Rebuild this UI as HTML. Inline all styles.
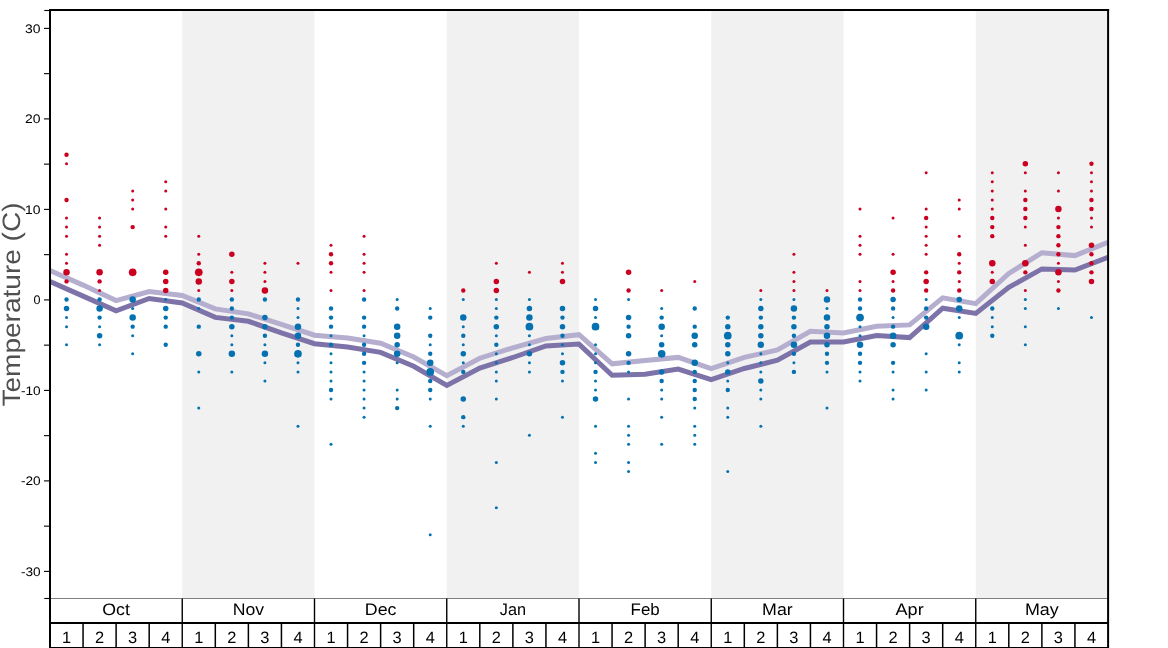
<!DOCTYPE html><html><head><meta charset="utf-8"><style>html,body{margin:0;padding:0;background:#fff;}svg text{text-rendering:geometricPrecision}</style></head><body><svg width="1168" height="648" viewBox="0 0 1168 648" style="display:block;will-change:transform;font-family:'Liberation Sans',sans-serif">
<rect width="1168" height="648" fill="#fff"/>
<defs><clipPath id="ax"><rect x="50" y="10" width="1058" height="588.5"/></clipPath></defs>
<rect x="182.25" y="10" width="132.25" height="588.5" fill="#f1f1f1"/>
<rect x="446.75" y="10" width="132.25" height="588.5" fill="#f1f1f1"/>
<rect x="711.25" y="10" width="132.25" height="588.5" fill="#f1f1f1"/>
<rect x="975.75" y="10" width="132.25" height="588.5" fill="#f1f1f1"/>
<g clip-path="url(#ax)" fill="none" stroke-linejoin="miter" stroke-linecap="butt">
<polyline points="50.0,270.6 83.1,285.1 116.1,300.6 149.2,291.5 182.2,295.5 215.3,308.9 248.4,313.9 281.4,324.3 314.5,335.2 347.6,338.1 380.6,343.2 413.7,357.0 446.8,375.6 479.8,358.2 512.9,347.8 545.9,338.5 579.0,334.7 612.1,363.8 645.1,360.4 678.2,357.4 711.2,368.7 744.3,357.4 777.4,350.0 810.4,331.3 843.5,333.0 876.6,326.2 909.6,324.9 942.7,297.8 975.8,303.6 1008.8,273.5 1041.9,252.7 1074.9,255.6 1108.0,242.4" stroke="#b5aecf" stroke-width="5.0"/>
<polyline points="50.0,281.5 83.1,296.1 116.1,310.8 149.2,298.5 182.2,302.9 215.3,317.4 248.4,321.3 281.4,332.9 314.5,343.7 347.6,347.1 380.6,352.4 413.7,366.3 446.8,385.5 479.8,368.1 512.9,357.5 545.9,345.9 579.0,344.1 612.1,375.2 645.1,374.3 678.2,369.0 711.2,379.7 744.3,368.5 777.4,360.2 810.4,342.0 843.5,342.0 876.6,335.5 909.6,337.6 942.7,308.2 975.8,313.4 1008.8,287.4 1041.9,268.9 1074.9,270.1 1108.0,257.4" stroke="#7e73a8" stroke-width="5.0"/>
</g>
<g fill="#ca0020"><circle cx="66.53" cy="154.70" r="2.20"/><circle cx="66.53" cy="163.75" r="1.50"/><circle cx="66.53" cy="199.95" r="2.20"/><circle cx="66.53" cy="218.05" r="1.50"/><circle cx="66.53" cy="227.10" r="1.50"/><circle cx="66.53" cy="236.15" r="1.50"/><circle cx="66.53" cy="254.25" r="1.50"/><circle cx="66.53" cy="263.30" r="1.50"/><circle cx="66.53" cy="272.35" r="3.25"/><circle cx="66.53" cy="281.40" r="2.20"/><circle cx="99.59" cy="218.05" r="1.50"/><circle cx="99.59" cy="227.10" r="1.50"/><circle cx="99.59" cy="236.15" r="1.50"/><circle cx="99.59" cy="245.20" r="1.50"/><circle cx="99.59" cy="272.35" r="3.25"/><circle cx="99.59" cy="281.40" r="2.20"/><circle cx="99.59" cy="290.45" r="1.50"/><circle cx="132.66" cy="190.90" r="1.50"/><circle cx="132.66" cy="199.95" r="1.50"/><circle cx="132.66" cy="209.00" r="1.50"/><circle cx="132.66" cy="227.10" r="2.20"/><circle cx="132.66" cy="272.35" r="3.85"/><circle cx="165.72" cy="181.85" r="1.50"/><circle cx="165.72" cy="190.90" r="1.50"/><circle cx="165.72" cy="209.00" r="1.50"/><circle cx="165.72" cy="227.10" r="1.50"/><circle cx="165.72" cy="236.15" r="1.50"/><circle cx="165.72" cy="272.35" r="2.75"/><circle cx="165.72" cy="281.40" r="2.75"/><circle cx="165.72" cy="290.45" r="2.75"/><circle cx="198.78" cy="236.15" r="1.50"/><circle cx="198.78" cy="254.25" r="1.50"/><circle cx="198.78" cy="263.30" r="2.20"/><circle cx="198.78" cy="272.35" r="3.85"/><circle cx="198.78" cy="281.40" r="3.25"/><circle cx="198.78" cy="290.45" r="1.50"/><circle cx="231.84" cy="254.25" r="2.75"/><circle cx="231.84" cy="272.35" r="1.50"/><circle cx="231.84" cy="281.40" r="2.75"/><circle cx="231.84" cy="290.45" r="1.50"/><circle cx="264.91" cy="263.30" r="1.50"/><circle cx="264.91" cy="272.35" r="1.50"/><circle cx="264.91" cy="281.40" r="1.50"/><circle cx="264.91" cy="290.45" r="3.25"/><circle cx="297.97" cy="263.30" r="1.50"/><circle cx="331.03" cy="245.20" r="1.50"/><circle cx="331.03" cy="254.25" r="2.20"/><circle cx="331.03" cy="263.30" r="2.20"/><circle cx="331.03" cy="272.35" r="1.50"/><circle cx="331.03" cy="290.45" r="1.50"/><circle cx="364.09" cy="236.15" r="1.50"/><circle cx="364.09" cy="254.25" r="1.50"/><circle cx="364.09" cy="263.30" r="1.50"/><circle cx="364.09" cy="272.35" r="1.50"/><circle cx="364.09" cy="290.45" r="1.50"/><circle cx="463.28" cy="290.45" r="2.20"/><circle cx="496.34" cy="263.30" r="1.50"/><circle cx="496.34" cy="281.40" r="2.75"/><circle cx="496.34" cy="290.45" r="2.75"/><circle cx="529.41" cy="272.35" r="1.50"/><circle cx="562.47" cy="263.30" r="1.50"/><circle cx="562.47" cy="272.35" r="1.50"/><circle cx="562.47" cy="281.40" r="2.75"/><circle cx="628.59" cy="272.35" r="2.75"/><circle cx="628.59" cy="290.45" r="2.20"/><circle cx="661.66" cy="290.45" r="1.50"/><circle cx="694.72" cy="281.40" r="1.50"/><circle cx="760.84" cy="290.45" r="1.50"/><circle cx="793.91" cy="254.25" r="1.50"/><circle cx="793.91" cy="272.35" r="1.50"/><circle cx="793.91" cy="281.40" r="1.50"/><circle cx="793.91" cy="290.45" r="1.50"/><circle cx="826.97" cy="290.45" r="1.50"/><circle cx="860.03" cy="209.00" r="1.50"/><circle cx="860.03" cy="236.15" r="1.50"/><circle cx="860.03" cy="245.20" r="1.50"/><circle cx="860.03" cy="254.25" r="1.50"/><circle cx="860.03" cy="281.40" r="1.50"/><circle cx="860.03" cy="290.45" r="1.50"/><circle cx="893.09" cy="218.05" r="1.50"/><circle cx="893.09" cy="254.25" r="1.50"/><circle cx="893.09" cy="272.35" r="2.75"/><circle cx="893.09" cy="281.40" r="1.50"/><circle cx="893.09" cy="290.45" r="2.20"/><circle cx="926.16" cy="172.80" r="1.50"/><circle cx="926.16" cy="209.00" r="1.50"/><circle cx="926.16" cy="218.05" r="2.20"/><circle cx="926.16" cy="227.10" r="1.50"/><circle cx="926.16" cy="236.15" r="1.50"/><circle cx="926.16" cy="245.20" r="1.50"/><circle cx="926.16" cy="254.25" r="1.50"/><circle cx="926.16" cy="272.35" r="2.20"/><circle cx="926.16" cy="281.40" r="2.75"/><circle cx="926.16" cy="290.45" r="2.20"/><circle cx="959.22" cy="199.95" r="1.50"/><circle cx="959.22" cy="209.00" r="1.50"/><circle cx="959.22" cy="236.15" r="1.50"/><circle cx="959.22" cy="254.25" r="2.20"/><circle cx="959.22" cy="263.30" r="1.50"/><circle cx="959.22" cy="272.35" r="2.20"/><circle cx="959.22" cy="281.40" r="1.50"/><circle cx="959.22" cy="290.45" r="2.20"/><circle cx="992.28" cy="172.80" r="1.50"/><circle cx="992.28" cy="181.85" r="1.50"/><circle cx="992.28" cy="190.90" r="1.50"/><circle cx="992.28" cy="199.95" r="1.50"/><circle cx="992.28" cy="209.00" r="1.50"/><circle cx="992.28" cy="218.05" r="2.20"/><circle cx="992.28" cy="227.10" r="2.20"/><circle cx="992.28" cy="236.15" r="2.20"/><circle cx="992.28" cy="263.30" r="3.25"/><circle cx="992.28" cy="272.35" r="1.50"/><circle cx="992.28" cy="281.40" r="2.75"/><circle cx="1025.34" cy="163.75" r="2.75"/><circle cx="1025.34" cy="172.80" r="1.50"/><circle cx="1025.34" cy="190.90" r="1.50"/><circle cx="1025.34" cy="199.95" r="2.20"/><circle cx="1025.34" cy="209.00" r="2.20"/><circle cx="1025.34" cy="218.05" r="2.20"/><circle cx="1025.34" cy="227.10" r="1.50"/><circle cx="1025.34" cy="245.20" r="1.50"/><circle cx="1025.34" cy="263.30" r="3.25"/><circle cx="1025.34" cy="272.35" r="2.20"/><circle cx="1025.34" cy="290.45" r="1.50"/><circle cx="1058.41" cy="172.80" r="1.50"/><circle cx="1058.41" cy="190.90" r="1.50"/><circle cx="1058.41" cy="209.00" r="3.25"/><circle cx="1058.41" cy="218.05" r="1.50"/><circle cx="1058.41" cy="227.10" r="2.20"/><circle cx="1058.41" cy="236.15" r="2.20"/><circle cx="1058.41" cy="245.20" r="2.20"/><circle cx="1058.41" cy="254.25" r="2.20"/><circle cx="1058.41" cy="263.30" r="1.50"/><circle cx="1058.41" cy="272.35" r="3.25"/><circle cx="1058.41" cy="281.40" r="1.50"/><circle cx="1058.41" cy="290.45" r="2.20"/><circle cx="1091.47" cy="163.75" r="2.20"/><circle cx="1091.47" cy="172.80" r="1.50"/><circle cx="1091.47" cy="181.85" r="1.50"/><circle cx="1091.47" cy="190.90" r="1.50"/><circle cx="1091.47" cy="199.95" r="2.20"/><circle cx="1091.47" cy="209.00" r="2.20"/><circle cx="1091.47" cy="218.05" r="1.50"/><circle cx="1091.47" cy="227.10" r="1.50"/><circle cx="1091.47" cy="245.20" r="2.75"/><circle cx="1091.47" cy="254.25" r="2.20"/><circle cx="1091.47" cy="263.30" r="2.20"/><circle cx="1091.47" cy="272.35" r="2.20"/><circle cx="1091.47" cy="281.40" r="2.75"/></g>
<g fill="#0571b0"><circle cx="66.53" cy="299.50" r="2.20"/><circle cx="66.53" cy="308.55" r="2.75"/><circle cx="66.53" cy="317.60" r="1.50"/><circle cx="66.53" cy="326.65" r="1.50"/><circle cx="66.53" cy="344.75" r="1.50"/><circle cx="99.59" cy="299.50" r="2.20"/><circle cx="99.59" cy="308.55" r="3.25"/><circle cx="99.59" cy="317.60" r="2.20"/><circle cx="99.59" cy="326.65" r="1.50"/><circle cx="99.59" cy="335.70" r="2.75"/><circle cx="99.59" cy="344.75" r="1.50"/><circle cx="132.66" cy="299.50" r="3.25"/><circle cx="132.66" cy="308.55" r="1.50"/><circle cx="132.66" cy="317.60" r="3.25"/><circle cx="132.66" cy="326.65" r="2.20"/><circle cx="132.66" cy="335.70" r="1.50"/><circle cx="132.66" cy="353.80" r="1.50"/><circle cx="165.72" cy="299.50" r="1.50"/><circle cx="165.72" cy="308.55" r="2.75"/><circle cx="165.72" cy="317.60" r="2.20"/><circle cx="165.72" cy="326.65" r="2.20"/><circle cx="165.72" cy="344.75" r="2.20"/><circle cx="198.78" cy="299.50" r="2.20"/><circle cx="198.78" cy="308.55" r="1.50"/><circle cx="198.78" cy="326.65" r="2.20"/><circle cx="198.78" cy="353.80" r="2.75"/><circle cx="198.78" cy="371.90" r="1.50"/><circle cx="198.78" cy="408.10" r="1.50"/><circle cx="231.84" cy="299.50" r="2.20"/><circle cx="231.84" cy="308.55" r="2.20"/><circle cx="231.84" cy="317.60" r="2.20"/><circle cx="231.84" cy="326.65" r="2.75"/><circle cx="231.84" cy="335.70" r="1.50"/><circle cx="231.84" cy="344.75" r="1.50"/><circle cx="231.84" cy="353.80" r="3.25"/><circle cx="231.84" cy="371.90" r="1.50"/><circle cx="264.91" cy="299.50" r="2.20"/><circle cx="264.91" cy="317.60" r="2.75"/><circle cx="264.91" cy="326.65" r="2.75"/><circle cx="264.91" cy="335.70" r="2.20"/><circle cx="264.91" cy="344.75" r="1.50"/><circle cx="264.91" cy="353.80" r="3.25"/><circle cx="264.91" cy="362.85" r="1.50"/><circle cx="264.91" cy="380.95" r="1.50"/><circle cx="297.97" cy="299.50" r="2.20"/><circle cx="297.97" cy="308.55" r="1.50"/><circle cx="297.97" cy="317.60" r="1.50"/><circle cx="297.97" cy="326.65" r="3.25"/><circle cx="297.97" cy="335.70" r="3.25"/><circle cx="297.97" cy="344.75" r="2.20"/><circle cx="297.97" cy="353.80" r="3.85"/><circle cx="297.97" cy="362.85" r="1.50"/><circle cx="297.97" cy="371.90" r="1.50"/><circle cx="297.97" cy="426.20" r="1.50"/><circle cx="331.03" cy="308.55" r="2.20"/><circle cx="331.03" cy="317.60" r="2.20"/><circle cx="331.03" cy="326.65" r="2.20"/><circle cx="331.03" cy="335.70" r="1.50"/><circle cx="331.03" cy="344.75" r="2.20"/><circle cx="331.03" cy="353.80" r="1.50"/><circle cx="331.03" cy="362.85" r="1.50"/><circle cx="331.03" cy="371.90" r="1.50"/><circle cx="331.03" cy="380.95" r="1.50"/><circle cx="331.03" cy="390.00" r="2.20"/><circle cx="331.03" cy="399.05" r="1.50"/><circle cx="331.03" cy="444.30" r="1.50"/><circle cx="364.09" cy="299.50" r="2.20"/><circle cx="364.09" cy="317.60" r="2.20"/><circle cx="364.09" cy="326.65" r="2.20"/><circle cx="364.09" cy="335.70" r="1.50"/><circle cx="364.09" cy="344.75" r="2.20"/><circle cx="364.09" cy="353.80" r="2.20"/><circle cx="364.09" cy="362.85" r="2.20"/><circle cx="364.09" cy="371.90" r="1.50"/><circle cx="364.09" cy="380.95" r="1.50"/><circle cx="364.09" cy="390.00" r="1.50"/><circle cx="364.09" cy="399.05" r="1.50"/><circle cx="364.09" cy="408.10" r="1.50"/><circle cx="364.09" cy="417.15" r="1.50"/><circle cx="397.16" cy="299.50" r="1.50"/><circle cx="397.16" cy="308.55" r="2.20"/><circle cx="397.16" cy="326.65" r="3.25"/><circle cx="397.16" cy="335.70" r="3.25"/><circle cx="397.16" cy="344.75" r="2.75"/><circle cx="397.16" cy="353.80" r="3.25"/><circle cx="397.16" cy="362.85" r="1.50"/><circle cx="397.16" cy="390.00" r="1.50"/><circle cx="397.16" cy="399.05" r="1.50"/><circle cx="397.16" cy="408.10" r="2.20"/><circle cx="430.22" cy="308.55" r="1.50"/><circle cx="430.22" cy="317.60" r="2.20"/><circle cx="430.22" cy="335.70" r="2.20"/><circle cx="430.22" cy="344.75" r="1.50"/><circle cx="430.22" cy="353.80" r="2.20"/><circle cx="430.22" cy="362.85" r="3.25"/><circle cx="430.22" cy="371.90" r="3.85"/><circle cx="430.22" cy="380.95" r="2.20"/><circle cx="430.22" cy="390.00" r="2.20"/><circle cx="430.22" cy="399.05" r="1.50"/><circle cx="430.22" cy="426.20" r="1.50"/><circle cx="430.22" cy="534.80" r="1.50"/><circle cx="463.28" cy="299.50" r="1.50"/><circle cx="463.28" cy="317.60" r="3.25"/><circle cx="463.28" cy="326.65" r="1.50"/><circle cx="463.28" cy="335.70" r="2.20"/><circle cx="463.28" cy="344.75" r="1.50"/><circle cx="463.28" cy="353.80" r="2.75"/><circle cx="463.28" cy="362.85" r="1.50"/><circle cx="463.28" cy="371.90" r="2.20"/><circle cx="463.28" cy="399.05" r="2.75"/><circle cx="463.28" cy="417.15" r="2.20"/><circle cx="463.28" cy="426.20" r="1.50"/><circle cx="496.34" cy="299.50" r="1.50"/><circle cx="496.34" cy="308.55" r="1.50"/><circle cx="496.34" cy="317.60" r="2.20"/><circle cx="496.34" cy="326.65" r="2.75"/><circle cx="496.34" cy="335.70" r="1.50"/><circle cx="496.34" cy="344.75" r="2.20"/><circle cx="496.34" cy="353.80" r="1.50"/><circle cx="496.34" cy="362.85" r="1.50"/><circle cx="496.34" cy="371.90" r="1.50"/><circle cx="496.34" cy="380.95" r="1.50"/><circle cx="496.34" cy="399.05" r="1.50"/><circle cx="496.34" cy="462.40" r="1.50"/><circle cx="496.34" cy="507.65" r="1.50"/><circle cx="529.41" cy="299.50" r="1.50"/><circle cx="529.41" cy="308.55" r="2.75"/><circle cx="529.41" cy="317.60" r="3.25"/><circle cx="529.41" cy="326.65" r="3.85"/><circle cx="529.41" cy="335.70" r="1.50"/><circle cx="529.41" cy="344.75" r="1.50"/><circle cx="529.41" cy="353.80" r="2.75"/><circle cx="529.41" cy="362.85" r="1.50"/><circle cx="529.41" cy="371.90" r="1.50"/><circle cx="529.41" cy="435.25" r="1.50"/><circle cx="562.47" cy="308.55" r="2.75"/><circle cx="562.47" cy="317.60" r="2.20"/><circle cx="562.47" cy="326.65" r="2.75"/><circle cx="562.47" cy="335.70" r="2.20"/><circle cx="562.47" cy="344.75" r="1.50"/><circle cx="562.47" cy="353.80" r="1.50"/><circle cx="562.47" cy="362.85" r="2.75"/><circle cx="562.47" cy="371.90" r="2.20"/><circle cx="562.47" cy="380.95" r="1.50"/><circle cx="562.47" cy="417.15" r="1.50"/><circle cx="595.53" cy="299.50" r="1.50"/><circle cx="595.53" cy="308.55" r="2.75"/><circle cx="595.53" cy="317.60" r="1.50"/><circle cx="595.53" cy="326.65" r="3.85"/><circle cx="595.53" cy="344.75" r="1.50"/><circle cx="595.53" cy="353.80" r="1.50"/><circle cx="595.53" cy="362.85" r="1.50"/><circle cx="595.53" cy="371.90" r="2.20"/><circle cx="595.53" cy="380.95" r="1.50"/><circle cx="595.53" cy="390.00" r="1.50"/><circle cx="595.53" cy="399.05" r="2.75"/><circle cx="595.53" cy="426.20" r="1.50"/><circle cx="595.53" cy="453.35" r="1.50"/><circle cx="595.53" cy="462.40" r="1.50"/><circle cx="628.59" cy="299.50" r="1.50"/><circle cx="628.59" cy="317.60" r="2.75"/><circle cx="628.59" cy="326.65" r="2.20"/><circle cx="628.59" cy="335.70" r="2.75"/><circle cx="628.59" cy="353.80" r="2.75"/><circle cx="628.59" cy="362.85" r="2.20"/><circle cx="628.59" cy="371.90" r="1.50"/><circle cx="628.59" cy="399.05" r="1.50"/><circle cx="628.59" cy="426.20" r="1.50"/><circle cx="628.59" cy="435.25" r="1.50"/><circle cx="628.59" cy="444.30" r="1.50"/><circle cx="628.59" cy="462.40" r="1.50"/><circle cx="628.59" cy="471.45" r="1.50"/><circle cx="661.66" cy="308.55" r="1.50"/><circle cx="661.66" cy="317.60" r="2.20"/><circle cx="661.66" cy="326.65" r="3.25"/><circle cx="661.66" cy="335.70" r="1.50"/><circle cx="661.66" cy="344.75" r="2.75"/><circle cx="661.66" cy="353.80" r="3.85"/><circle cx="661.66" cy="371.90" r="2.75"/><circle cx="661.66" cy="380.95" r="2.20"/><circle cx="661.66" cy="390.00" r="1.50"/><circle cx="661.66" cy="399.05" r="1.50"/><circle cx="661.66" cy="417.15" r="1.50"/><circle cx="661.66" cy="444.30" r="1.50"/><circle cx="694.72" cy="308.55" r="2.20"/><circle cx="694.72" cy="326.65" r="2.20"/><circle cx="694.72" cy="335.70" r="3.25"/><circle cx="694.72" cy="344.75" r="2.75"/><circle cx="694.72" cy="362.85" r="3.25"/><circle cx="694.72" cy="371.90" r="2.20"/><circle cx="694.72" cy="380.95" r="2.20"/><circle cx="694.72" cy="390.00" r="2.20"/><circle cx="694.72" cy="399.05" r="2.20"/><circle cx="694.72" cy="408.10" r="1.50"/><circle cx="694.72" cy="426.20" r="1.50"/><circle cx="694.72" cy="435.25" r="1.50"/><circle cx="694.72" cy="444.30" r="1.50"/><circle cx="727.78" cy="317.60" r="2.20"/><circle cx="727.78" cy="326.65" r="2.75"/><circle cx="727.78" cy="335.70" r="3.85"/><circle cx="727.78" cy="344.75" r="2.75"/><circle cx="727.78" cy="353.80" r="2.75"/><circle cx="727.78" cy="362.85" r="1.50"/><circle cx="727.78" cy="371.90" r="2.75"/><circle cx="727.78" cy="380.95" r="1.50"/><circle cx="727.78" cy="390.00" r="2.20"/><circle cx="727.78" cy="408.10" r="1.50"/><circle cx="727.78" cy="417.15" r="1.50"/><circle cx="727.78" cy="471.45" r="1.50"/><circle cx="760.84" cy="299.50" r="1.50"/><circle cx="760.84" cy="308.55" r="2.75"/><circle cx="760.84" cy="317.60" r="2.20"/><circle cx="760.84" cy="326.65" r="2.75"/><circle cx="760.84" cy="335.70" r="2.75"/><circle cx="760.84" cy="344.75" r="3.25"/><circle cx="760.84" cy="353.80" r="1.50"/><circle cx="760.84" cy="362.85" r="1.50"/><circle cx="760.84" cy="371.90" r="1.50"/><circle cx="760.84" cy="380.95" r="2.75"/><circle cx="760.84" cy="390.00" r="1.50"/><circle cx="760.84" cy="399.05" r="1.50"/><circle cx="760.84" cy="426.20" r="1.50"/><circle cx="793.91" cy="299.50" r="1.50"/><circle cx="793.91" cy="308.55" r="3.25"/><circle cx="793.91" cy="317.60" r="2.20"/><circle cx="793.91" cy="326.65" r="2.75"/><circle cx="793.91" cy="335.70" r="2.20"/><circle cx="793.91" cy="344.75" r="3.25"/><circle cx="793.91" cy="353.80" r="2.20"/><circle cx="793.91" cy="362.85" r="1.50"/><circle cx="793.91" cy="371.90" r="2.20"/><circle cx="826.97" cy="299.50" r="3.25"/><circle cx="826.97" cy="308.55" r="1.50"/><circle cx="826.97" cy="317.60" r="3.25"/><circle cx="826.97" cy="326.65" r="2.75"/><circle cx="826.97" cy="335.70" r="3.25"/><circle cx="826.97" cy="344.75" r="2.75"/><circle cx="826.97" cy="353.80" r="2.20"/><circle cx="826.97" cy="362.85" r="2.20"/><circle cx="826.97" cy="371.90" r="1.50"/><circle cx="826.97" cy="408.10" r="1.50"/><circle cx="860.03" cy="299.50" r="2.20"/><circle cx="860.03" cy="308.55" r="2.20"/><circle cx="860.03" cy="317.60" r="3.85"/><circle cx="860.03" cy="326.65" r="1.50"/><circle cx="860.03" cy="335.70" r="1.50"/><circle cx="860.03" cy="344.75" r="3.25"/><circle cx="860.03" cy="353.80" r="2.20"/><circle cx="860.03" cy="362.85" r="2.20"/><circle cx="860.03" cy="371.90" r="1.50"/><circle cx="860.03" cy="380.95" r="1.50"/><circle cx="893.09" cy="299.50" r="2.75"/><circle cx="893.09" cy="308.55" r="2.20"/><circle cx="893.09" cy="317.60" r="1.50"/><circle cx="893.09" cy="326.65" r="2.20"/><circle cx="893.09" cy="335.70" r="3.25"/><circle cx="893.09" cy="344.75" r="2.75"/><circle cx="893.09" cy="362.85" r="2.20"/><circle cx="893.09" cy="371.90" r="1.50"/><circle cx="893.09" cy="390.00" r="1.50"/><circle cx="893.09" cy="399.05" r="1.50"/><circle cx="926.16" cy="299.50" r="1.50"/><circle cx="926.16" cy="308.55" r="2.20"/><circle cx="926.16" cy="317.60" r="2.20"/><circle cx="926.16" cy="326.65" r="3.25"/><circle cx="926.16" cy="353.80" r="1.50"/><circle cx="926.16" cy="371.90" r="1.50"/><circle cx="926.16" cy="390.00" r="1.50"/><circle cx="959.22" cy="299.50" r="2.75"/><circle cx="959.22" cy="308.55" r="3.25"/><circle cx="959.22" cy="317.60" r="1.50"/><circle cx="959.22" cy="335.70" r="3.85"/><circle cx="959.22" cy="344.75" r="1.50"/><circle cx="959.22" cy="362.85" r="1.50"/><circle cx="959.22" cy="371.90" r="1.50"/><circle cx="992.28" cy="308.55" r="2.20"/><circle cx="992.28" cy="317.60" r="1.50"/><circle cx="992.28" cy="326.65" r="1.50"/><circle cx="992.28" cy="335.70" r="2.20"/><circle cx="1025.34" cy="299.50" r="1.50"/><circle cx="1025.34" cy="308.55" r="1.50"/><circle cx="1025.34" cy="326.65" r="1.50"/><circle cx="1025.34" cy="344.75" r="1.50"/><circle cx="1058.41" cy="308.55" r="1.50"/><circle cx="1091.47" cy="317.60" r="1.50"/></g>
<line x1="50" y1="598.5" x2="1108" y2="598.5" stroke="#808080" stroke-width="1"/>
<g stroke="#000">
<line x1="50" y1="623" x2="1108" y2="623" stroke-width="2"/>
<line x1="49" y1="647.9" x2="1109" y2="647.9" stroke-width="2"/>
<line x1="83.06" y1="623" x2="83.06" y2="648" stroke-width="1.5"/>
<line x1="116.12" y1="623" x2="116.12" y2="648" stroke-width="1.5"/>
<line x1="149.19" y1="623" x2="149.19" y2="648" stroke-width="1.5"/>
<line x1="182.25" y1="598.5" x2="182.25" y2="648" stroke-width="1.4"/>
<line x1="215.31" y1="623" x2="215.31" y2="648" stroke-width="1.5"/>
<line x1="248.38" y1="623" x2="248.38" y2="648" stroke-width="1.5"/>
<line x1="281.44" y1="623" x2="281.44" y2="648" stroke-width="1.5"/>
<line x1="314.50" y1="598.5" x2="314.50" y2="648" stroke-width="1.4"/>
<line x1="347.56" y1="623" x2="347.56" y2="648" stroke-width="1.5"/>
<line x1="380.62" y1="623" x2="380.62" y2="648" stroke-width="1.5"/>
<line x1="413.69" y1="623" x2="413.69" y2="648" stroke-width="1.5"/>
<line x1="446.75" y1="598.5" x2="446.75" y2="648" stroke-width="1.4"/>
<line x1="479.81" y1="623" x2="479.81" y2="648" stroke-width="1.5"/>
<line x1="512.88" y1="623" x2="512.88" y2="648" stroke-width="1.5"/>
<line x1="545.94" y1="623" x2="545.94" y2="648" stroke-width="1.5"/>
<line x1="579.00" y1="598.5" x2="579.00" y2="648" stroke-width="1.4"/>
<line x1="612.06" y1="623" x2="612.06" y2="648" stroke-width="1.5"/>
<line x1="645.12" y1="623" x2="645.12" y2="648" stroke-width="1.5"/>
<line x1="678.19" y1="623" x2="678.19" y2="648" stroke-width="1.5"/>
<line x1="711.25" y1="598.5" x2="711.25" y2="648" stroke-width="1.4"/>
<line x1="744.31" y1="623" x2="744.31" y2="648" stroke-width="1.5"/>
<line x1="777.38" y1="623" x2="777.38" y2="648" stroke-width="1.5"/>
<line x1="810.44" y1="623" x2="810.44" y2="648" stroke-width="1.5"/>
<line x1="843.50" y1="598.5" x2="843.50" y2="648" stroke-width="1.4"/>
<line x1="876.56" y1="623" x2="876.56" y2="648" stroke-width="1.5"/>
<line x1="909.62" y1="623" x2="909.62" y2="648" stroke-width="1.5"/>
<line x1="942.69" y1="623" x2="942.69" y2="648" stroke-width="1.5"/>
<line x1="975.75" y1="598.5" x2="975.75" y2="648" stroke-width="1.4"/>
<line x1="1008.81" y1="623" x2="1008.81" y2="648" stroke-width="1.5"/>
<line x1="1041.88" y1="623" x2="1041.88" y2="648" stroke-width="1.5"/>
<line x1="1074.94" y1="623" x2="1074.94" y2="648" stroke-width="1.5"/>
<line x1="50" y1="9" x2="50" y2="648" stroke-width="2"/>
<line x1="1108.1" y1="9" x2="1108.1" y2="648" stroke-width="2"/>
<line x1="49" y1="10" x2="1109.1" y2="10" stroke-width="2"/>
<line x1="44.0" y1="571.40" x2="49.5" y2="571.40" stroke-width="1.1"/>
<line x1="44.0" y1="526.15" x2="49.5" y2="526.15" stroke-width="1.1"/>
<line x1="44.0" y1="480.90" x2="49.5" y2="480.90" stroke-width="1.1"/>
<line x1="44.0" y1="435.65" x2="49.5" y2="435.65" stroke-width="1.1"/>
<line x1="44.0" y1="390.40" x2="49.5" y2="390.40" stroke-width="1.1"/>
<line x1="44.0" y1="345.15" x2="49.5" y2="345.15" stroke-width="1.1"/>
<line x1="44.0" y1="299.90" x2="49.5" y2="299.90" stroke-width="1.1"/>
<line x1="44.0" y1="254.65" x2="49.5" y2="254.65" stroke-width="1.1"/>
<line x1="44.0" y1="209.40" x2="49.5" y2="209.40" stroke-width="1.1"/>
<line x1="44.0" y1="164.15" x2="49.5" y2="164.15" stroke-width="1.1"/>
<line x1="44.0" y1="118.90" x2="49.5" y2="118.90" stroke-width="1.1"/>
<line x1="44.0" y1="73.65" x2="49.5" y2="73.65" stroke-width="1.1"/>
<line x1="44.0" y1="28.40" x2="49.5" y2="28.40" stroke-width="1.1"/>
<line x1="44.3" y1="10.5" x2="49.5" y2="10.5" stroke-width="1.1"/>
<line x1="44.3" y1="598.5" x2="49.5" y2="598.5" stroke-width="1.1"/>
</g>
<g font-size="12.4" fill="#000" text-anchor="end">
<text x="40.6" y="575.55" textLength="19.7" lengthAdjust="spacingAndGlyphs">-30</text>
<text x="40.6" y="485.05" textLength="19.7" lengthAdjust="spacingAndGlyphs">-20</text>
<text x="40.6" y="394.55" textLength="19.7" lengthAdjust="spacingAndGlyphs">-10</text>
<text x="40.6" y="304.05" textLength="7.0" lengthAdjust="spacingAndGlyphs">0</text>
<text x="40.6" y="213.55" textLength="15.5" lengthAdjust="spacingAndGlyphs">10</text>
<text x="40.6" y="123.05" textLength="15.5" lengthAdjust="spacingAndGlyphs">20</text>
<text x="40.6" y="32.55" textLength="15.5" lengthAdjust="spacingAndGlyphs">30</text>
</g>
<g font-size="16.6" fill="#000" text-anchor="middle">
<text x="116.12" y="615.1" textLength="27.6" lengthAdjust="spacingAndGlyphs">Oct</text>
<text x="248.38" y="615.1" textLength="31.4" lengthAdjust="spacingAndGlyphs">Nov</text>
<text x="380.62" y="615.1" textLength="31.6" lengthAdjust="spacingAndGlyphs">Dec</text>
<text x="512.88" y="615.1" textLength="26.2" lengthAdjust="spacingAndGlyphs">Jan</text>
<text x="645.12" y="615.1" textLength="29.1" lengthAdjust="spacingAndGlyphs">Feb</text>
<text x="777.38" y="615.1" textLength="30.6" lengthAdjust="spacingAndGlyphs">Mar</text>
<text x="909.62" y="615.1" textLength="28.1" lengthAdjust="spacingAndGlyphs">Apr</text>
<text x="1041.88" y="615.1" textLength="33.8" lengthAdjust="spacingAndGlyphs">May</text>
<text x="66.53" y="642.8" font-size="16.4">1</text>
<text x="99.59" y="642.8" font-size="16.4">2</text>
<text x="132.66" y="642.8" font-size="16.4">3</text>
<text x="165.72" y="642.8" font-size="16.4">4</text>
<text x="198.78" y="642.8" font-size="16.4">1</text>
<text x="231.84" y="642.8" font-size="16.4">2</text>
<text x="264.91" y="642.8" font-size="16.4">3</text>
<text x="297.97" y="642.8" font-size="16.4">4</text>
<text x="331.03" y="642.8" font-size="16.4">1</text>
<text x="364.09" y="642.8" font-size="16.4">2</text>
<text x="397.16" y="642.8" font-size="16.4">3</text>
<text x="430.22" y="642.8" font-size="16.4">4</text>
<text x="463.28" y="642.8" font-size="16.4">1</text>
<text x="496.34" y="642.8" font-size="16.4">2</text>
<text x="529.41" y="642.8" font-size="16.4">3</text>
<text x="562.47" y="642.8" font-size="16.4">4</text>
<text x="595.53" y="642.8" font-size="16.4">1</text>
<text x="628.59" y="642.8" font-size="16.4">2</text>
<text x="661.66" y="642.8" font-size="16.4">3</text>
<text x="694.72" y="642.8" font-size="16.4">4</text>
<text x="727.78" y="642.8" font-size="16.4">1</text>
<text x="760.84" y="642.8" font-size="16.4">2</text>
<text x="793.91" y="642.8" font-size="16.4">3</text>
<text x="826.97" y="642.8" font-size="16.4">4</text>
<text x="860.03" y="642.8" font-size="16.4">1</text>
<text x="893.09" y="642.8" font-size="16.4">2</text>
<text x="926.16" y="642.8" font-size="16.4">3</text>
<text x="959.22" y="642.8" font-size="16.4">4</text>
<text x="992.28" y="642.8" font-size="16.4">1</text>
<text x="1025.34" y="642.8" font-size="16.4">2</text>
<text x="1058.41" y="642.8" font-size="16.4">3</text>
<text x="1091.47" y="642.8" font-size="16.4">4</text>
</g>
<text transform="translate(19.6,304.5) rotate(-90)" font-size="25.2" fill="#505050" text-anchor="middle" textLength="204" lengthAdjust="spacingAndGlyphs">Temperature (C)</text>
</svg></body></html>
